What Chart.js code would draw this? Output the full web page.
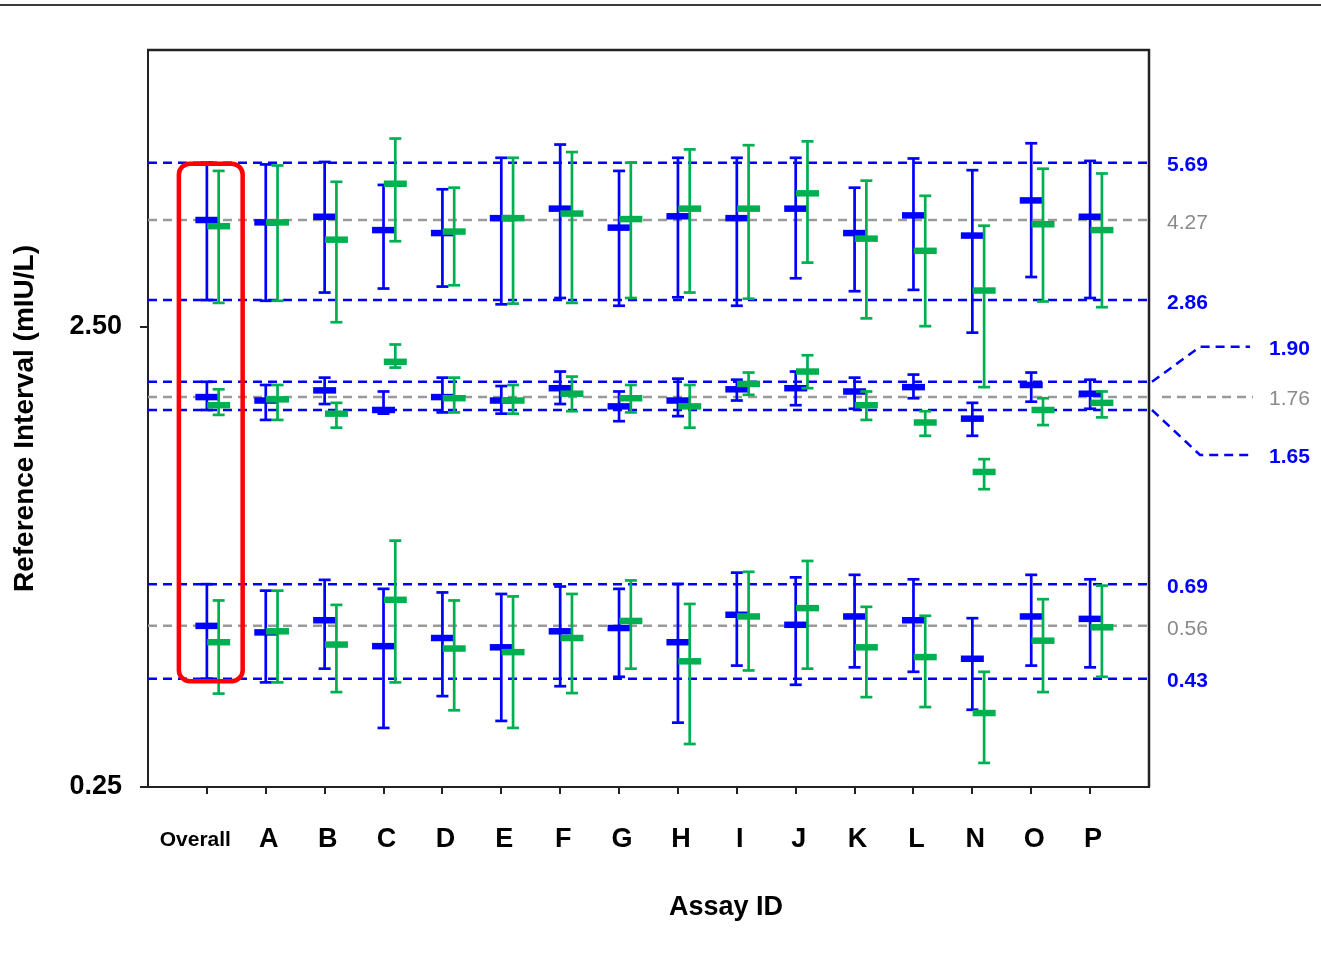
<!DOCTYPE html>
<html>
<head>
<meta charset="utf-8">
<script src="https://cdn.jsdelivr.net/npm/chart.js@4.4.1/dist/chart.umd.min.js"></script>
<style>
html,body{margin:0;padding:0;background:#fff;}
#wrap{width:1321px;height:963px;position:relative;}
</style>
</head>
<body>
<div id="wrap"><canvas id="c" width="1321" height="963"></canvas></div>
<script>
// ---------- data ----------
const cats = ['Overall','A','B','C','D','E','F','G','H','I','J','K','L','N','O','P'];
const yTickValues = [0.25, 2.5];
const yTickLabels = ['0.25', '2.50'];

// reference lines (right-hand annotations)
const refValues = [5.69, 4.27, 2.86, 1.90, 1.76, 1.65, 0.69, 0.56, 0.43];
const refLabels = ['5.69','4.27','2.86','1.90','1.76','1.65','0.69','0.56','0.43'];
const refKinds  = ['ci','est','ci','ci','est','ci','ci','est','ci'];

// blue series: upper limit, median, lower limit (hi / est / lo)
const blueUpperHi  = [5.69, 5.64, 5.71, 5.09, 4.98, 5.83, 6.23, 5.46, 5.83, 5.83, 5.83, 5.02, 5.81, 5.48, 6.27, 5.74];
const blueUpperEst = [4.27, 4.22, 4.34, 4.06, 4.00, 4.31, 4.52, 4.11, 4.35, 4.31, 4.52, 4.00, 4.37, 3.95, 4.71, 4.34];
const blueUpperLo  = [2.86, 2.85, 2.97, 3.03, 3.06, 2.80, 2.89, 2.78, 2.90, 2.78, 3.19, 2.99, 3.01, 2.43, 3.21, 2.89];
const blueMedHi    = [1.90, 1.87, 1.94, 1.81, 1.94, 1.86, 2.00, 1.81, 1.93, 1.92, 2.00, 1.94, 1.97, 1.71, 1.99, 1.92];
const blueMedEst   = [1.76, 1.73, 1.82, 1.65, 1.76, 1.73, 1.84, 1.68, 1.73, 1.83, 1.84, 1.81, 1.85, 1.58, 1.87, 1.79];
const blueMedLo    = [1.65, 1.57, 1.70, 1.62, 1.63, 1.62, 1.70, 1.56, 1.60, 1.73, 1.69, 1.66, 1.75, 1.45, 1.72, 1.66];
const blueLowHi    = [0.69, 0.668, 0.705, 0.674, 0.662, 0.657, 0.682, 0.674, 0.691, 0.731, 0.714, 0.723, 0.707, 0.582, 0.723, 0.707];
const blueLowEst   = [0.56, 0.542, 0.576, 0.506, 0.527, 0.503, 0.545, 0.554, 0.516, 0.592, 0.563, 0.587, 0.576, 0.475, 0.587, 0.580];
const blueLowLo    = [0.43, 0.422, 0.452, 0.336, 0.394, 0.348, 0.414, 0.434, 0.345, 0.459, 0.417, 0.455, 0.445, 0.368, 0.459, 0.455];

// green series
const greenUpperHi  = [5.46, 5.61, 5.17, 6.42, 5.02, 5.83, 6.00, 5.69, 6.08, 6.21, 6.33, 5.20, 4.82, 4.15, 5.52, 5.39];
const greenUpperEst = [4.14, 4.22, 3.87, 5.12, 4.03, 4.31, 4.41, 4.29, 4.52, 4.52, 4.88, 3.89, 3.66, 3.00, 4.18, 4.06];
const greenUpperLo  = [2.82, 2.85, 2.56, 3.84, 3.08, 2.81, 2.82, 2.89, 2.97, 2.88, 3.45, 2.61, 2.51, 1.85, 2.84, 2.76];
const greenMedHi    = [1.83, 1.87, 1.71, 2.29, 1.94, 1.87, 1.95, 1.87, 1.87, 1.99, 2.17, 1.81, 1.64, 1.29, 1.75, 1.81];
const greenMedEst   = [1.69, 1.74, 1.62, 2.10, 1.75, 1.73, 1.79, 1.75, 1.68, 1.88, 2.00, 1.69, 1.55, 1.21, 1.65, 1.71];
const greenMedLo    = [1.61, 1.57, 1.51, 2.04, 1.63, 1.62, 1.64, 1.63, 1.51, 1.78, 1.84, 1.57, 1.45, 1.11, 1.53, 1.59];
const greenLowHi    = [0.636, 0.668, 0.622, 0.858, 0.636, 0.649, 0.657, 0.703, 0.625, 0.734, 0.775, 0.616, 0.589, 0.445, 0.640, 0.685];
const greenLowEst   = [0.516, 0.545, 0.510, 0.638, 0.500, 0.491, 0.527, 0.574, 0.469, 0.587, 0.612, 0.503, 0.479, 0.362, 0.520, 0.556];
const greenLowLo    = [0.399, 0.422, 0.402, 0.422, 0.367, 0.336, 0.400, 0.452, 0.310, 0.448, 0.452, 0.392, 0.373, 0.282, 0.402, 0.434];

// ---------- styles ----------
const BLUE = '#0000ff', GREEN = '#00b050', GRAY = '#9a9a9a';
const FONT = '"Liberation Sans", Arial, Helvetica, sans-serif';
Chart.defaults.font.family = FONT;
Chart.defaults.color = '#000';

function pts(vals, off) { return vals.map((v, i) => ({ x: i + 1 + off, y: v })); }
function whisk(lo, hi, off) {
  const d = [];
  lo.forEach((v, i) => { d.push({ x: i + 1 + off, y: v }, { x: i + 1 + off, y: hi[i] }, { x: i + 1 + off, y: null }); });
  return d;
}

const datasets = [];
refValues.forEach((v, k) => {
  datasets.push({
    data: [{ x: 0, y: v }, { x: 17, y: v }],
    showLine: true, borderColor: refKinds[k] === 'est' ? GRAY : BLUE,
    borderWidth: 2.5, borderDash: [9, 6], pointRadius: 0, order: 50
  });
});
function addSeries(color, off, order, groups) {
  groups.forEach(([lo, est, hi]) => {
    datasets.push({ data: whisk(lo, hi, off), showLine: true, spanGaps: false,
      borderColor: color, borderWidth: 2.7, pointRadius: 0, order: order + 0.2 });
    datasets.push({ data: pts(lo, off).concat(pts(hi, off)), showLine: false,
      pointStyle: 'line', pointRadius: 6, pointBorderWidth: 2.7,
      borderColor: color, pointBorderColor: color, backgroundColor: color, order: order + 0.1 });
    datasets.push({ data: pts(est, off), showLine: false,
      pointStyle: 'line', pointRadius: 11.5, pointBorderWidth: 6.5,
      borderColor: color, pointBorderColor: color, backgroundColor: color, order: order });
  });
}
addSeries(BLUE, 0, 10, [[blueUpperLo, blueUpperEst, blueUpperHi], [blueMedLo, blueMedEst, blueMedHi], [blueLowLo, blueLowEst, blueLowHi]]);
addSeries(GREEN, 0.2, 1, [[greenUpperLo, greenUpperEst, greenUpperHi], [greenMedLo, greenMedEst, greenMedHi], [greenLowLo, greenLowEst, greenLowHi]]);

function roundRectPath(ctx, x, y, w, h, r) {
  ctx.beginPath();
  ctx.moveTo(x + r, y);
  ctx.lineTo(x + w - r, y); ctx.arcTo(x + w, y, x + w, y + r, r);
  ctx.lineTo(x + w, y + h - r); ctx.arcTo(x + w, y + h, x + w - r, y + h, r);
  ctx.lineTo(x + r, y + h); ctx.arcTo(x, y + h, x, y + h - r, r);
  ctx.lineTo(x, y + r); ctx.arcTo(x, y, x + r, y, r);
  ctx.closePath();
}

const annot = {
  id: 'annot',
  afterDatasetsDraw(chart) {
    const { ctx, scales: { x, y } } = chart;
    ctx.save();
    const l = x.getPixelForValue(1) - 28, r = x.getPixelForValue(1.2) + 24;
    const t = y.getPixelForValue(refValues[0]) + 1, b = y.getPixelForValue(refValues[refValues.length - 1]) + 2.5;
    ctx.strokeStyle = '#ff0000'; ctx.lineWidth = 4.5;
    roundRectPath(ctx, l, t, r - l, b - t, 11);
    ctx.stroke();
    ctx.restore();
  },
  afterDraw(chart) {
    const { ctx, chartArea: a, scales: { y } } = chart;
    ctx.save();
    // page top rule
    ctx.strokeStyle = '#3a3a3a'; ctx.lineWidth = 2;
    ctx.beginPath(); ctx.moveTo(0, 5); ctx.lineTo(1321, 5); ctx.stroke();
    // top and right frame
    ctx.strokeStyle = '#222'; ctx.lineWidth = 2.5;
    ctx.beginPath(); ctx.moveTo(a.left - 1, a.top); ctx.lineTo(a.right, a.top); ctx.lineTo(a.right, a.bottom); ctx.stroke();
    // right-hand labels
    const shifts = { 3: -35, 4: 0, 5: 45 };
    ctx.textBaseline = 'middle'; ctx.textAlign = 'left';
    refValues.forEach((v, k) => {
      const py = y.getPixelForValue(v);
      const col = refKinds[k] === 'est' ? '#8a8a8a' : BLUE;
      ctx.fillStyle = col;
      ctx.font = (refKinds[k] === 'est' ? '' : 'bold ') + '21px ' + FONT;
      if (k in shifts) {
        const s = shifts[k];
        ctx.strokeStyle = refKinds[k] === 'est' ? GRAY : BLUE;
        ctx.lineWidth = 2.5; ctx.setLineDash([9, 6]);
        ctx.beginPath();
        if (s === 0) { ctx.moveTo(a.right + 13, py); ctx.lineTo(a.right + 104, py); }
        else { ctx.moveTo(a.right + 3, py); ctx.lineTo(a.right + 51, py + s); ctx.lineTo(a.right + 101, py + s); }
        ctx.stroke(); ctx.setLineDash([]);
        ctx.fillText(refLabels[k], a.right + 120, py + s + 2);
      } else {
        ctx.fillText(refLabels[k], a.right + 18, py + 3);
      }
    });
    // x-axis title
    ctx.fillStyle = '#000'; ctx.textAlign = 'center';
    ctx.font = 'bold 27px ' + FONT;
    ctx.fillText('Assay ID', 726, 908);
    ctx.restore();
  }
};

new Chart(document.getElementById('c'), {
  type: 'scatter',
  data: { datasets },
  plugins: [annot],
  options: {
    responsive: false, animation: false, events: [],
    layout: { padding: { top: 50, right: 172, left: 0, bottom: 0 } },
    plugins: { legend: { display: false }, tooltip: { enabled: false } },
    scales: {
      x: {
        type: 'linear', min: 0, max: 17,
        afterBuildTicks: s => { s.ticks = cats.map((c, i) => ({ value: i + 1 })); },
        afterFit: s => { s.height = 176; },
        ticks: {
          autoSkip: false, maxRotation: 0, minRotation: 0, padding: 30, color: '#000', labelOffset: 3,
          callback: (v) => { const i = Math.round(v) - 1; return i === 0 ? cats[i] + '     ' : cats[i]; },
          font: (ctx) => ({ size: ctx.index === 0 ? 21 : 27, weight: 'bold', family: FONT, lineHeight: '32px' })
        },
        grid: { drawOnChartArea: false, drawTicks: true, tickLength: 7, color: '#222', lineWidth: 2 },
        border: { display: true, color: '#222', width: 2 },
        title: { display: false }
      },
      y: {
        type: 'logarithmic', min: 0.25, max: 10,
        afterBuildTicks: s => { s.ticks = yTickValues.map(v => ({ value: v })); },
        afterFit: s => { s.width = 148; },
        ticks: {
          padding: 18, color: '#000',
          callback: (v, i) => yTickLabels[i],
          font: { size: 27, weight: 'bold', family: FONT }
        },
        grid: { drawOnChartArea: false, drawTicks: true, tickLength: 8, color: '#222', lineWidth: 2 },
        border: { display: true, color: '#222', width: 2 },
        title: {
          display: true, text: 'Reference Interval (mIU/L)', color: '#000',
          font: { size: 28, weight: 'bold', family: FONT }, padding: { top: 8, bottom: 0 }
        }
      }
    }
  }
});
</script>
</body>
</html>
